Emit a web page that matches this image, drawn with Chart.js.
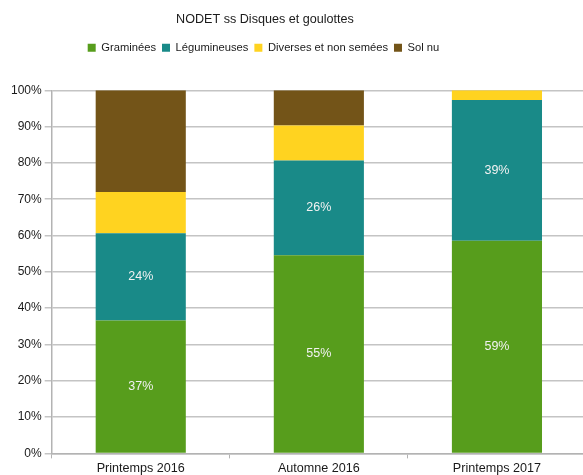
<!DOCTYPE html>
<html>
<head>
<meta charset="utf-8">
<script src="https://cdn.jsdelivr.net/npm/chart.js@4"></script>
<style>
    html, body { margin: 0; padding: 0; background: #fff; overflow: hidden; }
    #wrap { width: 583px; height: 475px; overflow: hidden; }
</style>
</head>
<body>
<div id="wrap"><canvas id="nodetChart" width="586" height="475"></canvas></div>
<script>
// ==========================================
// NODET ss Disques et goulottes — 100% stacked bars
// ==========================================

const categories = ['Printemps 2016', 'Automne 2016', 'Printemps 2017'];
const seriesNames = ['Graminées', 'Légumineuses', 'Diverses et non semées', 'Sol nu'];
const graminees = [36.6, 54.6, 58.6];
const legumineuses = [24.0, 26.1, 38.7];
const diverses = [11.4, 9.6, 2.7];
const solNu = [28.0, 9.7, 0];
const yTicks = [0, 10, 20, 30, 40, 50, 60, 70, 80, 90, 100];

const colors = ['#579d1c', '#198a88', '#ffd320', '#735418'];
const FONT = "'Liberation Sans', Arial, sans-serif";

// Labels in the segments of the first two series only
const segmentLabels = {
    id: 'segmentLabels',
    afterDatasetsDraw(chart) {
        const ctx = chart.ctx;
        ctx.save();
        ctx.font = `12.5px ${FONT}`;
        ctx.fillStyle = '#f2f2f2';
        ctx.textAlign = 'center';
        ctx.textBaseline = 'middle';
        [0, 1].forEach(i => {
            const meta = chart.getDatasetMeta(i);
            meta.data.forEach((bar, j) => {
                const v = chart.data.datasets[i].data[j];
                const mid = (bar.y + bar.base) / 2;
                ctx.fillText(Math.round(v) + '%', bar.x, mid);
            });
        });
        ctx.restore();
    }
};

// Extra space under the legend, and title/legend centred like the original
const headerLayout = {
    id: 'headerLayout',
    beforeInit(chart) {
        const fit = chart.legend.fit;
        chart.legend.fit = function () {
            fit.bind(this)();
            this.height += 27;
        };
    },
    afterLayout(chart) {
        if (chart.titleBlock) { chart.titleBlock.left = 0; chart.titleBlock.right = 530; }
        if (chart.legend) { chart.legend.left = 0; chart.legend.right = 527; }
    }
};

new Chart(document.getElementById('nodetChart'), {
    type: 'bar',
    data: {
        labels: categories,
        datasets: [graminees, legumineuses, diverses, solNu].map((d, i) => ({
            label: seriesNames[i],
            data: d,
            backgroundColor: colors[i],
            borderWidth: 0,
            barPercentage: 0.506,
            categoryPercentage: 1.0
        }))
    },
    options: {
        responsive: false,
        animation: false,
        layout: { padding: { left: 8, right: 0, top: 6, bottom: -4.5 } },
        plugins: {
            title: {
                display: true,
                text: 'NODET ss Disques et goulottes',
                color: '#1a1a1a',
                font: { family: FONT, size: 12.6, weight: 'normal' },
                padding: { top: 6, bottom: 9 }
            },
            legend: {
                position: 'top',
                labels: {
                    boxWidth: 8,
                    boxHeight: 8,
                    padding: 6,
                    color: '#1a1a1a',
                    font: { family: FONT, size: 11.2 }
                }
            },
            tooltip: { enabled: false }
        },
        scales: {
            x: {
                stacked: true,
                border: { color: '#b3b3b3', width: 1.5 },
                grid: { display: true, drawOnChartArea: false, offset: true, color: '#b3b3b3', tickLength: 5 },
                ticks: { color: '#1a1a1a', font: { family: FONT, size: 12.6 }, padding: 3 }
            },
            y: {
                stacked: true,
                min: 0,
                max: 100,
                afterBuildTicks: axis => { axis.ticks = yTicks.map(v => ({ value: v })); },
                border: { color: '#b3b3b3', width: 1.5 },
                grid: { color: '#c4c4c4', lineWidth: 1.5, tickLength: 7 },
                ticks: {
                    color: '#1a1a1a',
                    font: { family: FONT, size: 12 },
                    padding: 3,
                    callback: v => v + '%'
                }
            }
        }
    },
    plugins: [segmentLabels, headerLayout]
});
</script>
</body>
</html>
